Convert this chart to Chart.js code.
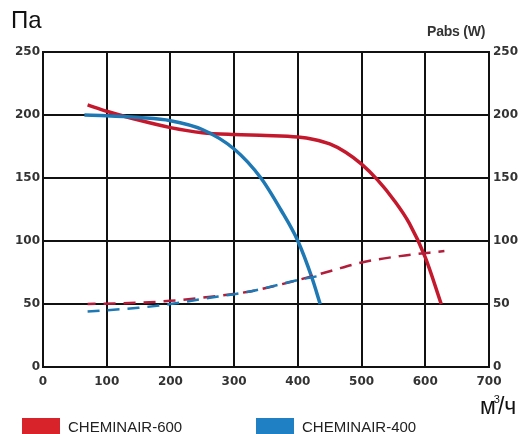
<!DOCTYPE html>
<html>
<head>
<meta charset="utf-8">
<script src="https://cdn.jsdelivr.net/npm/chart.js@4"></script>
<style>
  body { margin: 0; background: #fff; font-family: "Liberation Sans", Arial, sans-serif; }
  #wrap { position: relative; width: 521px; height: 434px; overflow: hidden; }
  #chart { position: absolute; left: 0; top: 0; }
  .lbl { position: absolute; color: #111; white-space: nowrap; }
  #unitY { left: 11px; top: 6px; font-size: 24px; }
  #unitW { left: 427px; top: 23px; font-size: 14px; font-weight: bold; color: #333; letter-spacing: -0.2px; }
  #unitX { left: 480px; top: 393px; font-size: 23px; }
  #unitX sup { font-size: 11px; position: relative; top: -2px; margin: 0 -2px; }
  .leg { position: absolute; top: 418px; font-size: 15px; color: #222; }
  .leg i { display: inline-block; width: 38px; height: 16px; vertical-align: -2px; margin-right: 8px; }
</style>
</head>
<body>
<div id="wrap">
  <canvas id="chart" width="521" height="434"></canvas>
  <div class="lbl" id="unitY">Па</div>
  <div class="lbl" id="unitW">Pabs (W)</div>
  <div class="lbl" id="unitX">м<sup>3</sup>/ч</div>
  <div class="leg" style="left:22px"><i style="background:#d9232a"></i>CHEMINAIR-600</div>
  <div class="leg" style="left:256px"><i style="background:#1f80c4"></i>CHEMINAIR-400</div>
</div>
<script>
// ---- data ----
const flow600 = [70, 100, 150, 200, 250, 300, 350, 400, 425, 450, 475, 500, 525, 550, 575, 600, 625];
const pres600 = [208, 203, 196, 190, 186, 184.5, 183.8, 182.5, 180.6, 177, 170.5, 161, 148.5, 133, 114, 87, 50];

const flow400 = [65, 100, 150, 200, 250, 300, 342, 373, 400, 422, 435];
const pres400 = [200, 199.5, 198, 195.5, 188.5, 173, 150, 125, 100, 71, 50];

const powFlow600 = [70, 150, 200, 250, 325, 400, 450, 500, 560, 630];
const pow600 = [50, 51, 52.5, 55, 60, 69, 76, 83, 88, 92];

const powFlow400 = [70, 150, 200, 250, 325, 400, 430];
const pow400 = [44, 47, 50, 54, 60, 69, 72];

const xTicks = [0, 100, 200, 300, 400, 500, 600, 700];
const yTicks = [0, 50, 100, 150, 200, 250];

const RED = '#c4182c';
const BLUE = '#1d78b4';

function pts(xs, ys) {
    return xs.map((x, i) => ({ x: x, y: ys[i] }));
}

const tickFont = { family: '"DejaVu Sans", Arial, sans-serif', size: 12, weight: 'bold' };
const gridStyle = { color: '#111', lineWidth: 2, drawTicks: false };
const borderStyle = { color: '#111', width: 2 };

new Chart(document.getElementById('chart'), {
    type: 'line',
    data: {
        datasets: [
            { data: pts(powFlow400, pow400), borderColor: BLUE, borderWidth: 2.5, borderDash: [12, 8], pointRadius: 0, cubicInterpolationMode: 'monotone' },
            { data: pts(powFlow600, pow600), borderColor: '#b21d3a', borderWidth: 2.5, borderDash: [12, 8], borderDashOffset: 4, pointRadius: 0, cubicInterpolationMode: 'monotone' },
            { data: pts(flow400, pres400), borderColor: BLUE, borderWidth: 3.5, pointRadius: 0, cubicInterpolationMode: 'monotone' },
            { data: pts(flow600, pres600), borderColor: RED, borderWidth: 3.5, pointRadius: 0, cubicInterpolationMode: 'monotone' }
        ]
    },
    options: {
        responsive: false,
        animation: false,
        devicePixelRatio: 1,
        layout: { padding: { top: 52, left: 0, right: 0, bottom: 0 } },
        plugins: { legend: { display: false }, tooltip: { enabled: false } },
        scales: {
            x: {
                type: 'linear', min: 0, max: 700,
                afterBuildTicks: s => { s.ticks = xTicks.map(v => ({ value: v })); },
                afterFit: s => { s.height = 67; },
                ticks: { font: tickFont, color: '#333', padding: 8, maxRotation: 0 },
                grid: gridStyle, border: borderStyle
            },
            y: {
                position: 'left', min: 0, max: 250,
                afterBuildTicks: s => { s.ticks = yTicks.map(v => ({ value: v })); },
                afterFit: s => { s.width = 43; },
                ticks: { font: tickFont, color: '#333', padding: 3 },
                grid: gridStyle, border: borderStyle
            },
            y2: {
                position: 'right', min: 0, max: 250,
                afterBuildTicks: s => { s.ticks = yTicks.map(v => ({ value: v })); },
                afterFit: s => { s.width = 32; },
                ticks: { font: tickFont, color: '#333', padding: 4 },
                grid: { display: false, drawTicks: false }, border: borderStyle
            }
        }
    }
});
</script>
</body>
</html>
